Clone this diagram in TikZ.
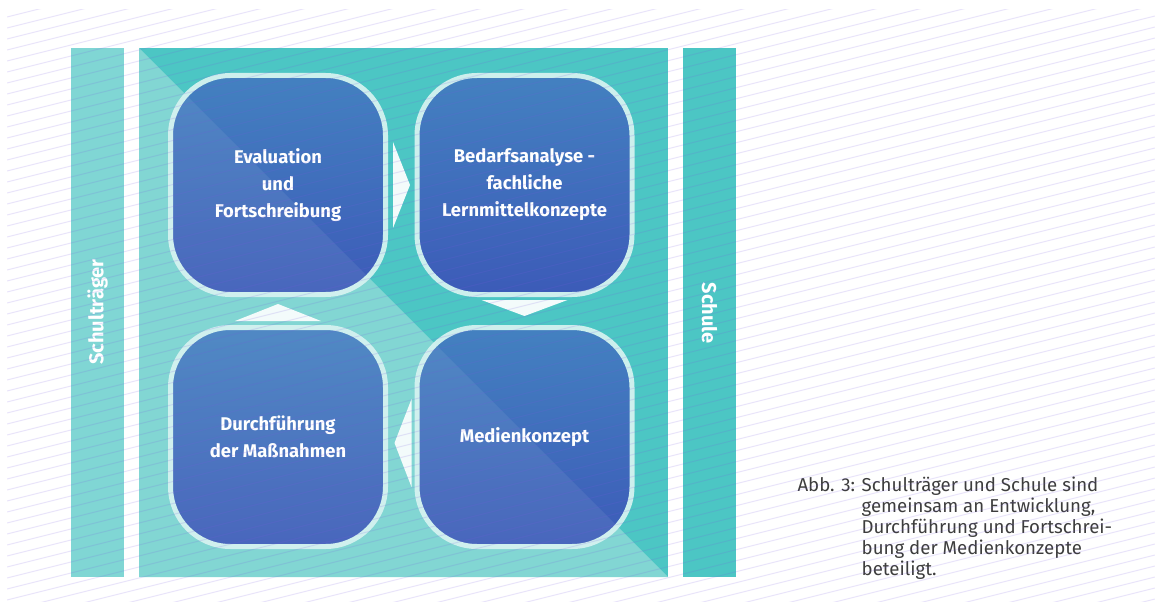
\documentclass[tikz,border=0pt]{standalone}
\usepackage{fontspec}
\setmainfont{Fira Sans}
\usetikzlibrary{positioning}

\definecolor{tealdark}{RGB}{76,198,196}
\definecolor{teallight}{RGB}{128,214,212}
\definecolor{tealunder}{RGB}{121,211,208}
\definecolor{boxrim}{RGB}{205,239,237}
\definecolor{boxtop}{RGB}{67,129,192}
\definecolor{boxbottom}{RGB}{60,91,184}
\definecolor{arrowwhite}{RGB}{243,251,251}
\definecolor{hatchcol}{RGB}{120,90,225}
\definecolor{captiongray}{RGB}{61,61,61}

\tikzset{every picture/.style={line width=0.75pt}}
\tikzset{
  stepbox/.style={draw=boxrim, line width=3.75pt, top color=boxtop, bottom color=boxbottom,
    rounded corners=45pt, minimum width=161.25pt, minimum height=164.25pt,
    align=center, text=white, font=\fontsize{13.8}{20.25}\selectfont\bfseries},
  arrowtri/.style={fill=arrowwhite},
  sidelabel/.style={text=white, font=\fontsize{15}{18}\selectfont\bfseries, inner sep=0pt}
}

\begin{document}
\begin{tikzpicture}[x=0.75pt,y=0.75pt,yscale=-1,xscale=1]
\useasboundingbox (0,0) rectangle (1155,602);

%Shape: Rectangle [id:schultraeger bar]
\fill [teallight] (71,48) rectangle (124,577);
%Shape: Rectangle [id:schule bar]
\fill [tealdark] (683,48) rectangle (736,577);
%Shape: Square [id:main square]
\fill [tealdark] (139,48) rectangle (668,577);
%Shape: Right Triangle [id:lower half]
\fill [tealunder] (139,48) -- (668,577) -- (139,577) -- cycle;

% Text Node
\node [stepbox] (evaluation) at (278,185) {Evaluation\\und\\Fortschreibung};
% Text Node
\node [stepbox] (bedarf) at (524.5,185) {Bedarfsanalyse -\\fachliche\\Lernmittelkonzepte};
% Text Node
\node [stepbox] (durchf) at (278,437) {Durchführung\\der Maßnahmen};
% Text Node
\node [stepbox] (medien) at (524.5,437) {Medienkonzept};

%Shape: Triangle [id:evaluation to bedarf]
\fill [arrowtri] ([xshift=3.75pt]evaluation.east) ++(0,-43) -- ++(17,43) -- ++(-17,43) -- cycle;
%Shape: Triangle [id:bedarf to medien]
\fill [arrowtri] ([yshift=2.25pt]bedarf.south) ++(-43,0) -- ++(43,16) -- ++(43,-16) -- cycle;
%Shape: Triangle [id:medien to durchf]
\fill [arrowtri] ([xshift=-2.25pt,yshift=4.5pt]medien.west) ++(0,-44) -- ++(-17,44) -- ++(17,44) -- cycle;
%Shape: Triangle [id:durchf to evaluation]
\fill [arrowtri] ([yshift=-3pt]durchf.north) ++(-43,0) -- ++(43,-17) -- ++(43,17) -- cycle;

%Shape: Right Triangle [id:light overlay]
\fill [white, fill opacity=0.07] (139,48) -- (668,577) -- (139,577) -- cycle;

% Text Node
\node [sidelabel, rotate=90] (traeger) at (97.5,312) {Schulträger};
% Text Node
\node [sidelabel, rotate=-90] (schule) at (709.5,313) {Schule};

% Text Node
\node [anchor=base west, inner sep=0pt, text=captiongray, font=\fontsize{14}{15.9}\selectfont] (caption) at (797,491)
  {\begin{tabular}[t]{@{}l@{ }l@{}}
   Abb. 3: & Schulträger und Schule sind\\
           & gemeinsam an Entwicklung,\\
           & Durchführung und Fortschrei-\\
           & bung der Medienkonzepte\\
           & beteiligt.
   \end{tabular}};

%Shape: Hatching [id:background lines]
\begin{scope}
\clip (7,10) rectangle (1155,602);
\foreach \k in {0,...,82}
  \draw [hatchcol, draw opacity=0.16] (7,6+\k*11) -- ++(1148,-287);
\end{scope}

\end{tikzpicture}
\end{document}
